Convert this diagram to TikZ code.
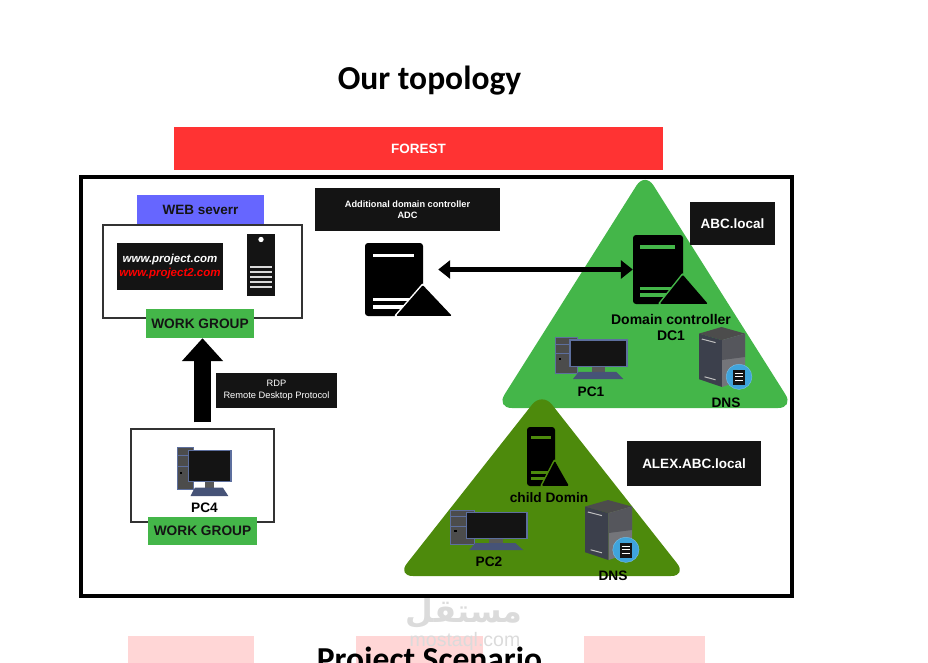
\documentclass[tikz,border=0pt]{standalone}
\usepackage{fontspec}
\setmainfont{Liberation Sans}
\newfontfamily\titlefont{Carlito}
\newfontfamily\arabicfont[Script=Arabic]{DejaVu Sans}
\TeXXeTstate=1
\usetikzlibrary{arrows.meta}

\definecolor{forestred}{HTML}{FF3333}
\definecolor{webblue}{HTML}{6666FF}
\definecolor{groupgreen}{HTML}{44B649}
\definecolor{childgreen}{HTML}{4D8A0C}
\definecolor{inkblack}{HTML}{141414}
\definecolor{pcblue}{HTML}{5D6F9E}
\definecolor{paleRed}{HTML}{FFD6D6}
\definecolor{dnsfront}{HTML}{3C404C}
\definecolor{dnsside}{HTML}{55565C}
\definecolor{dnslow}{HTML}{74757A}
\definecolor{dnsglobe}{HTML}{3FA4DC}

\tikzstyle{plate} = [rectangle, inner sep=0pt, text centered, align=center]
\tikzstyle{darkbox} = [plate, fill=inkblack, text=white, font=\bfseries\fontsize{13.5}{15}\selectfont]
\tikzstyle{smallbox} = [plate, fill=inkblack, text=white, font=\fontsize{9.3}{11.5}\selectfont]
\tikzstyle{groupbox} = [plate, fill=groupgreen, text=inkblack, font=\bfseries\fontsize{13.7}{15}\selectfont]
\tikzstyle{hostbox} = [plate, draw=black!80, line width=1.5pt]
\tikzstyle{srvbody} = [plate, fill=black, rounded corners=3pt]
\tikzstyle{tag} = [inner sep=0pt, text=black, align=center, font=\bfseries\fontsize{13.7}{16.5}\selectfont]
\tikzstyle{domainshape} = [rounded corners=16pt]
\tikzstyle{arrow} = [line width=4.5pt, black, {Triangle[length=12pt,width=18pt]}-{Triangle[length=12pt,width=18pt]}]
\tikzstyle{bigarrow} = [line width=17pt, black, -{Triangle[length=23pt,width=40pt]}]

\tikzset{
  pics/srvmarks/.style={code={
    \fill [#1] (.14,.15) rectangle (.85,.2);
    \fill [#1] (.14,.75) rectangle (.8,.8);
    \fill [#1] (.14,.85) rectangle (.8,.9);
    \filldraw [black, draw=#1, line width=3pt, line join=round] (1,.58) -- (1.5,1) -- (.54,1) -- cycle;
    \fill [black, rounded corners=1pt] (1,.58) -- (1.5,1) -- (.54,1) -- cycle;
  }},
  pics/pcicon/.style={code={
    \filldraw [fill=black!70, draw=pcblue, line width=.7pt] (0,0) rectangle (.31,.86);
    \draw [pcblue, line width=.7pt] (0,.17) -- (.31,.17) (0,.4) -- (.31,.4);
    \fill [black] (.05,.5) rectangle (.09,.55);
    \fill [black!65] (.51,.71) rectangle (.69,.84);
    \fill [pcblue!75!black] (.25,1) -- (.33,.83) -- (.85,.83) -- (.95,1) -- cycle;
    \filldraw [fill=inkblack, draw=pcblue, line width=1.3pt] (.21,.07) rectangle (1,.71);
  }},
  pics/dnsicon/.style={code={
    \fill [black!70] (0,.11) -- (.49,0) -- (1,.11) -- (.5,.22) -- cycle;
    \fill [dnsfront] (0,.11) -- (.5,.22) -- (.5,1) -- (0,.87) -- cycle;
    \fill [dnslow] (.5,.22) -- (1,.11) -- (1,.87) -- (.5,1) -- cycle;
    \fill [dnsside] (.5,.22) -- (1,.11) -- (1,.5) -- (.5,.55) -- cycle;
    \draw [black!25, line width=1pt] (.06,.2) -- (.36,.26) (.12,.83) -- (.36,.88);
    \filldraw [fill=dnsglobe, draw=dnsglobe!70] (.87,.83) ellipse (.28 and .21);
    \fill [inkblack] (.74,.71) rectangle (1,.96);
    \draw [white, line width=.7pt] (.78,.77) -- (.96,.77) (.78,.83) -- (.96,.83) (.78,.89) -- (.96,.89);
  }}
}

\begin{document}
\begin{tikzpicture}[x=1pt, y=-1pt]
    \useasboundingbox (0,0) rectangle (928,663);

    \foreach \name/\xa/\xwide in {pinka/190.5/126, pinkb/419.5/127, pinkc/644.5/121}
        \node (\name) [plate, fill=paleRed, minimum width=\xwide pt, minimum height=27pt] at (\xa,649.5) {};

    \node (wmark) [text=black!14, font=\arabicfont\bfseries\fontsize{32}{36}\selectfont] at (464,613) {\beginR مستقل\endR};
    \node (wmarklatin) [text=black!14, font=\fontsize{19.5}{21}\selectfont] at (465,641) {mostaql.com};

    \node (title) [font=\titlefont\bfseries\fontsize{33.5}{38}\selectfont] at (429.5,81) {Our topology};
    \node (nexttitle) [font=\titlefont\bfseries\fontsize{33.5}{38}\selectfont] at (429.5,662) {Project Scenario};

    \node (forest) [plate, fill=forestred, text=white, minimum width=489pt, minimum height=43pt, font=\bfseries\fontsize{13.5}{15}\selectfont] at (418.5,148.5) {FOREST};
    \node (frame) [plate, draw=black, line width=3.5pt, minimum width=711pt, minimum height=419pt] at (436.5,386.5) {};

    \fill [domainshape, groupgreen] (645,172) -- (794,408) -- (496,408) -- cycle;
    \fill [domainshape, childgreen] (542,392) -- (687,576) -- (397,576) -- cycle;

    \node (webtag) [plate, fill=webblue, text=inkblack, minimum width=127pt, minimum height=29pt, font=\bfseries\fontsize{13.5}{15}\selectfont] at (200.5,209.5) {WEB severr};
    \node (webhost) [hostbox, minimum width=199pt, minimum height=93pt] at (202.5,271.5) {};
    \node (sites) [plate, fill=inkblack, text=white, minimum width=106pt, minimum height=47pt, font=\bfseries\itshape\fontsize{11.5}{14}\selectfont] at (170,266.5) {www.project.com\\\textcolor{red}{www.project2.com}};
    \node (webtower) [plate, fill=inkblack, minimum width=28pt, minimum height=62pt] at (261,265) {};
    \fill [white] (261,239.5) circle (2.7pt);
    \foreach \ybar in {267,272,277,282,287}
        \fill [black!15] (250,\ybar-1) rectangle (272,\ybar+1);
    \node (wgone) [groupbox, minimum width=108pt, minimum height=29pt] at (200,323.5) {WORK GROUP};

    \node (pcfourbox) [hostbox, minimum width=143pt, minimum height=93pt] at (202.5,475.5) {};
    \pic [xscale=54, yscale=49] at (177,447) {pcicon};
    \node (pcfour) [tag] at (204.5,508) {PC4};
    \node (wgtwo) [groupbox, minimum width=109pt, minimum height=28pt] at (202.5,531) {WORK GROUP};
    \draw [bigarrow, shorten <=6pt] (pcfourbox.north) -- (pcfourbox.north |- wgone.south);
    \node (rdp) [smallbox, minimum width=121pt, minimum height=35pt] at (276.5,390.5) {RDP\\Remote Desktop Protocol};

    \node (adclabel) [smallbox, minimum width=185pt, minimum height=43pt, font=\bfseries\fontsize{9.2}{11.5}\selectfont] at (407.5,209.5) {Additional domain controller\\ADC};
    \node (adcsrv) [srvbody, minimum width=58pt, minimum height=73pt] at (394,279.5) {};
    \pic [xscale=58, yscale=73] at (adcsrv.north west) {srvmarks=white};

    \node (dcsrv) [srvbody, minimum width=50pt, minimum height=69pt] at (658,269.5) {};
    \pic [xscale=50, yscale=69] at (dcsrv.north west) {srvmarks=groupgreen};
    \draw [arrow, shorten <=15pt] (adcsrv.east |- dcsrv.west) -- (dcsrv.west);

    \node (abclabel) [darkbox, minimum width=85pt, minimum height=43pt] at (732.5,223.5) {ABC.local};
    \node (dctag) [tag, font=\bfseries\fontsize{14}{16.5}\selectfont] at (671,327.5) {Domain controller\\DC1};
    \pic [xscale=72, yscale=42] at (555,337) {pcicon};
    \node (pcone) [tag] at (591,392) {PC1};
    \pic [xscale=46, yscale=60] at (699,327) {dnsicon};
    \node (dnsone) [tag] at (726,403) {DNS};

    \node (childsrv) [srvbody, minimum width=28pt, minimum height=59pt] at (541,456.5) {};
    \pic [xscale=28, yscale=59] at (childsrv.north west) {srvmarks=childgreen};
    \node (childtag) [tag] at (549,498) {child Domin};
    \node (alexlabel) [darkbox, minimum width=134pt, minimum height=45pt] at (694,463.5) {ALEX.ABC.local};
    \pic [xscale=77, yscale=40] at (450,510) {pcicon};
    \node (pctwo) [tag] at (489,562) {PC2};
    \pic [xscale=47, yscale=60] at (585,500) {dnsicon};
    \node (dnstwo) [tag] at (613,576) {DNS};

\end{tikzpicture}
\end{document}
